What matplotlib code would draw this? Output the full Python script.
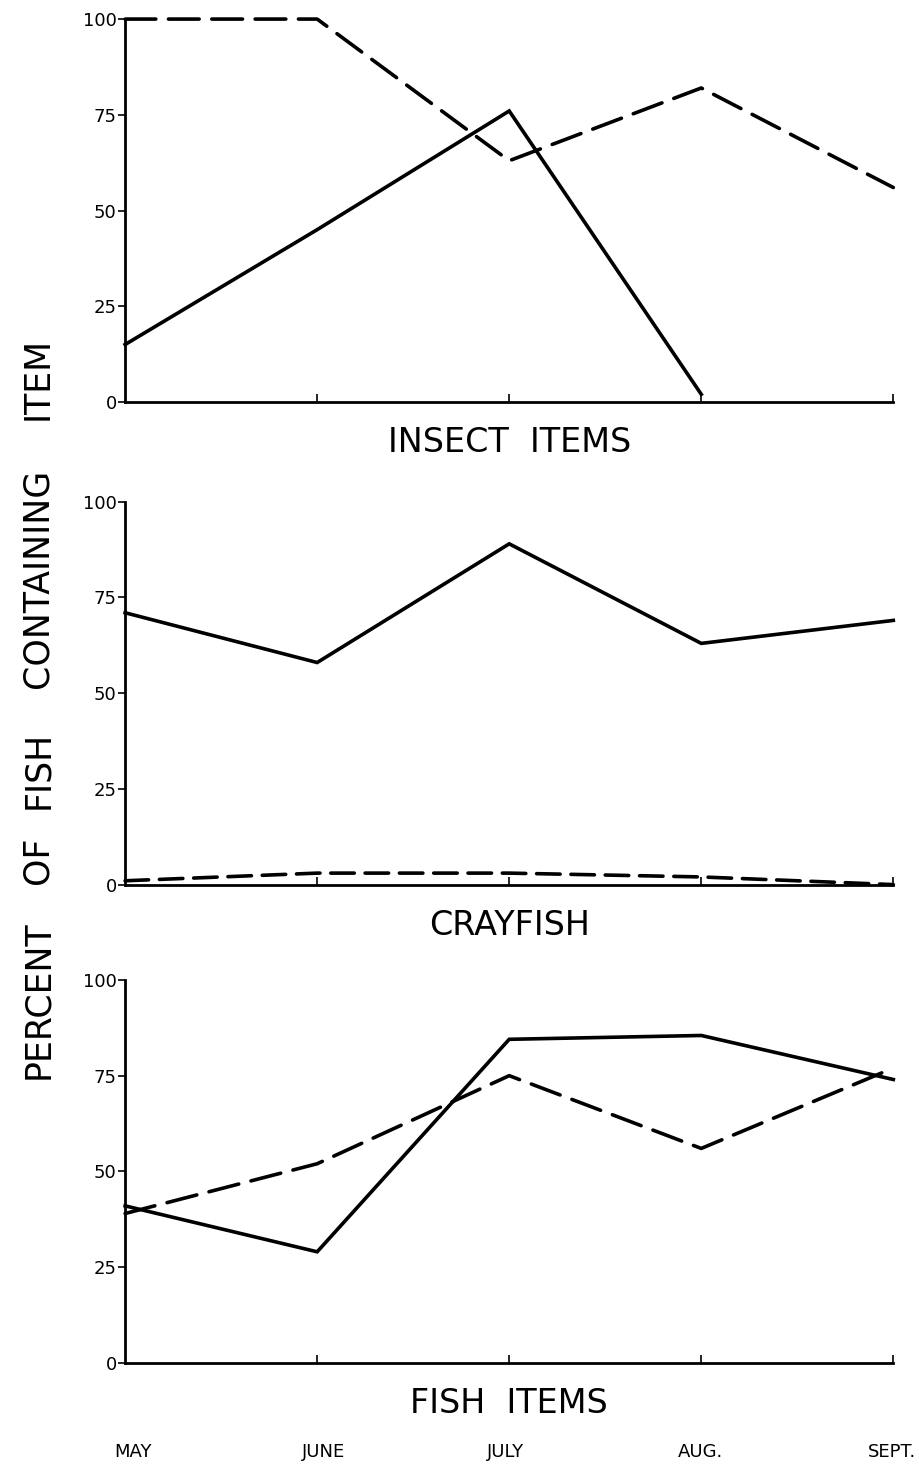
import numpy as np
import matplotlib.pyplot as plt

plt.rcParams['font.family'] = ['Liberation Sans Narrow', 'DejaVu Sans']

months = ['MAY', 'JUNE', 'JULY', 'AUG.', 'SEPT.']
x = np.arange(len(months))

# insect items
insect_solid = [15, 45, 76, 2]
insect_dash = [100, 100, 63, 82, 56]
# crayfish
cray_solid = [71, 58, 89, 63, 69]
cray_dash = [1, 3, 3, 2, 0]
# fish items
fish_solid = [41, 29, 84.5, 85.5, 74]
fish_dash = [39, 52, 75, 56, 77]

titles = ['INSECT  ITEMS', 'CRAYFISH', 'FISH  ITEMS']
yticks = [0, 25, 50, 75, 100]

fig = plt.figure(figsize=(9.2, 14.67), dpi=100)

panels = [
    (0.726, insect_solid, insect_dash, (8.5, 3.5)),
    (0.397, cray_solid, cray_dash, (6.5, 3.0)),
    (0.071, fish_solid, fish_dash, (8.5, 3.5)),
]

for i, (bottom, solid, dash, pat) in enumerate(panels):
    ax = fig.add_axes([0.136, bottom, 0.835, 0.261])
    ax.plot(x[:len(solid)], solid, color='black', lw=2.6, clip_on=False,
            solid_joinstyle='miter')
    ax.plot(x[:len(dash)], dash, color='black', lw=2.6, clip_on=False,
            dashes=pat, dash_capstyle='round')
    ax.set_xlim(0, 4)
    ax.set_ylim(0, 100)
    ax.spines['top'].set_visible(False)
    ax.spines['right'].set_visible(False)
    ax.spines['left'].set_linewidth(2)
    ax.spines['bottom'].set_linewidth(2)
    ax.set_xticks([1, 2, 3, 4])
    ax.set_xticklabels([])
    ax.tick_params(axis='x', direction='in', length=6, width=1.2)
    ax.set_yticks(yticks)
    ax.set_yticklabels([str(v) for v in yticks], fontsize=13,
                       family=['DejaVu Sans'])
    ax.tick_params(axis='y', direction='out', length=5, width=1.2, pad=1)
    ax.set_xlabel(titles[i], fontsize=24, labelpad=14)

# month labels along the bottom
for xm, m in zip([0.145, 0.352, 0.549, 0.761, 0.97], months):
    fig.text(xm, 1 - 1452 / 1467, m, ha='center', va='center', fontsize=13)

# vertical axis words, spread out as in the original
for yp, w in [(378, 'ITEM'), (578, 'CONTAINING'), (770, 'FISH'),
              (860, 'OF'), (1000, 'PERCENT')]:
    fig.text(0.041, 1 - yp / 1467, w, rotation=90, ha='center', va='center',
             fontsize=25, family=['DejaVu Sans'])

fig.savefig('out.png', dpi=100)
